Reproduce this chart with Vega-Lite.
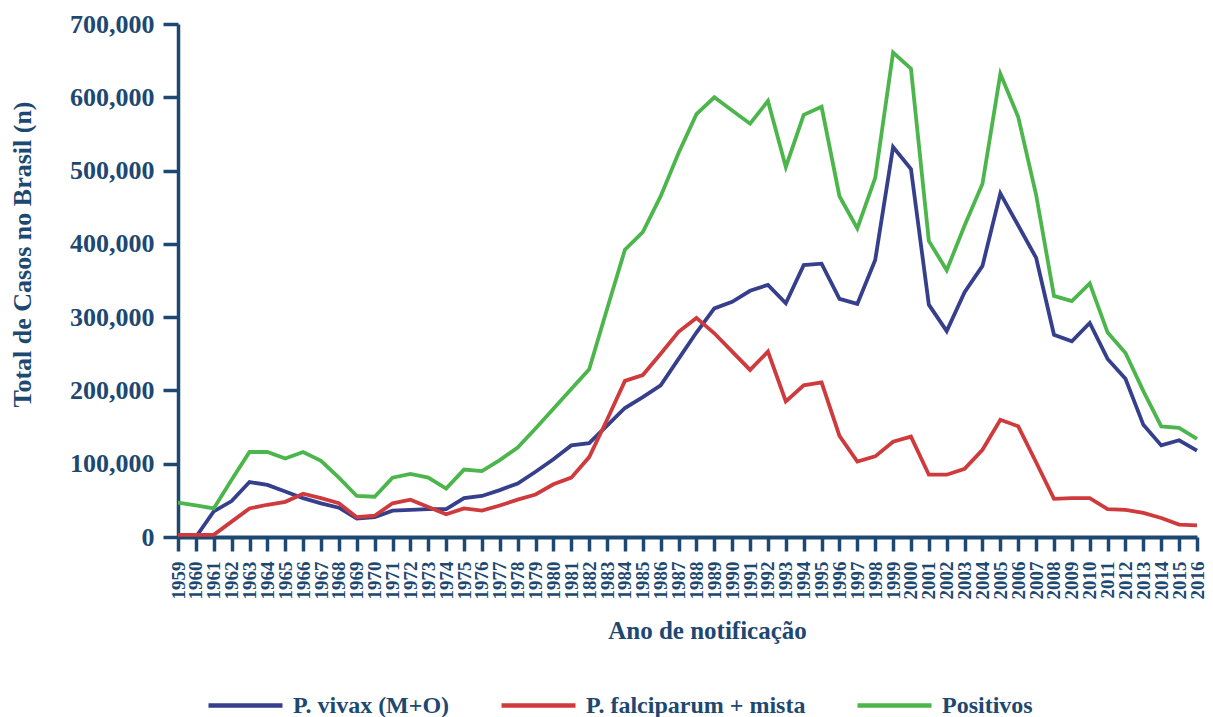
{
  "$schema": "https://vega.github.io/schema/vega-lite/v6.json",
  "width": 1019,
  "height": 513,
  "autosize": {"type": "none"},
  "padding": {"left": 178, "top": 24, "right": 16, "bottom": 180},
  "background": "white",
  "config": {"view": {"stroke": null}, "font": "Liberation Serif"},
  "data": {"values": [
    {"ano": 1959, "falciparum": 3000, "positivos": 47000},
    {"ano": 1960, "vivax": 0, "falciparum": 3000, "positivos": 43000},
    {"ano": 1961, "vivax": 35000, "falciparum": 3000, "positivos": 39000},
    {"ano": 1962, "vivax": 49000, "falciparum": 21000, "positivos": 78000},
    {"ano": 1963, "vivax": 75000, "falciparum": 39000, "positivos": 116000},
    {"ano": 1964, "vivax": 71000, "falciparum": 44000, "positivos": 116000},
    {"ano": 1965, "vivax": 62000, "falciparum": 48000, "positivos": 107000},
    {"ano": 1966, "vivax": 53000, "falciparum": 59000, "positivos": 116000},
    {"ano": 1967, "vivax": 46000, "falciparum": 53000, "positivos": 104000},
    {"ano": 1968, "vivax": 40000, "falciparum": 46000, "positivos": 81000},
    {"ano": 1969, "vivax": 25000, "falciparum": 27000, "positivos": 56000},
    {"ano": 1970, "vivax": 27000, "falciparum": 29000, "positivos": 55000},
    {"ano": 1971, "vivax": 36000, "falciparum": 46000, "positivos": 81000},
    {"ano": 1972, "vivax": 37000, "falciparum": 51000, "positivos": 86000},
    {"ano": 1973, "vivax": 38000, "falciparum": 41000, "positivos": 81000},
    {"ano": 1974, "vivax": 38000, "falciparum": 31000, "positivos": 66000},
    {"ano": 1975, "vivax": 53000, "falciparum": 39000, "positivos": 92000},
    {"ano": 1976, "vivax": 56000, "falciparum": 36000, "positivos": 90000},
    {"ano": 1977, "vivax": 64000, "falciparum": 43000, "positivos": 105000},
    {"ano": 1978, "vivax": 73000, "falciparum": 51000, "positivos": 122000},
    {"ano": 1979, "vivax": 89000, "falciparum": 58000, "positivos": 148000},
    {"ano": 1980, "vivax": 106000, "falciparum": 72000, "positivos": 175000},
    {"ano": 1981, "vivax": 125000, "falciparum": 81000, "positivos": 202000},
    {"ano": 1982, "vivax": 128000, "falciparum": 109000, "positivos": 229000},
    {"ano": 1983, "vivax": 152000, "falciparum": 160000, "positivos": 311000},
    {"ano": 1984, "vivax": 176000, "falciparum": 213000, "positivos": 392000},
    {"ano": 1985, "vivax": 191000, "falciparum": 221000, "positivos": 416000},
    {"ano": 1986, "vivax": 207000, "falciparum": 250000, "positivos": 465000},
    {"ano": 1987, "vivax": 243000, "falciparum": 280000, "positivos": 524000},
    {"ano": 1988, "vivax": 279000, "falciparum": 299000, "positivos": 577000},
    {"ano": 1989, "vivax": 312000, "falciparum": 278000, "positivos": 600000},
    {"ano": 1990, "vivax": 321000, "falciparum": 253000, "positivos": 582000},
    {"ano": 1991, "vivax": 336000, "falciparum": 228000, "positivos": 564000},
    {"ano": 1992, "vivax": 344000, "falciparum": 253000, "positivos": 595000},
    {"ano": 1993, "vivax": 319000, "falciparum": 185000, "positivos": 505000},
    {"ano": 1994, "vivax": 371000, "falciparum": 207000, "positivos": 576000},
    {"ano": 1995, "vivax": 373000, "falciparum": 211000, "positivos": 587000},
    {"ano": 1996, "vivax": 325000, "falciparum": 138000, "positivos": 465000},
    {"ano": 1997, "vivax": 318000, "falciparum": 103000, "positivos": 421000},
    {"ano": 1998, "vivax": 378000, "falciparum": 110000, "positivos": 490000},
    {"ano": 1999, "vivax": 532000, "falciparum": 130000, "positivos": 661000},
    {"ano": 2000, "vivax": 502000, "falciparum": 137000, "positivos": 639000},
    {"ano": 2001, "vivax": 317000, "falciparum": 85000, "positivos": 404000},
    {"ano": 2002, "vivax": 281000, "falciparum": 85000, "positivos": 364000},
    {"ano": 2003, "vivax": 334000, "falciparum": 93000, "positivos": 425000},
    {"ano": 2004, "vivax": 370000, "falciparum": 119000, "positivos": 482000},
    {"ano": 2005, "vivax": 469000, "falciparum": 160000, "positivos": 632000},
    {"ano": 2006, "vivax": 425000, "falciparum": 151000, "positivos": 573000},
    {"ano": 2007, "vivax": 381000, "falciparum": 102000, "positivos": 467000},
    {"ano": 2008, "vivax": 276000, "falciparum": 52000, "positivos": 329000},
    {"ano": 2009, "vivax": 267000, "falciparum": 53000, "positivos": 322000},
    {"ano": 2010, "vivax": 292000, "falciparum": 53000, "positivos": 346000},
    {"ano": 2011, "vivax": 243000, "falciparum": 38000, "positivos": 279000},
    {"ano": 2012, "vivax": 216000, "falciparum": 37000, "positivos": 251000},
    {"ano": 2013, "vivax": 153000, "falciparum": 33000, "positivos": 199000},
    {"ano": 2014, "vivax": 125000, "falciparum": 26000, "positivos": 151000},
    {"ano": 2015, "vivax": 132000, "falciparum": 17000, "positivos": 149000},
    {"ano": 2016, "vivax": 118000, "falciparum": 16000, "positivos": 134000}
  ]},
  "transform": [{"fold": ["vivax", "falciparum", "positivos"], "as": ["serie", "casos"]}],
  "mark": {"type": "line", "strokeWidth": 3.8},
  "encoding": {
    "x": {
      "field": "ano",
      "type": "ordinal",
      "scale": {"type": "point", "padding": 0},
      "axis": {
        "title": "Ano de notificação",
        "labelExpr": "datum.value == 1982 ? '1882' : datum.label",
        "labelAngle": 270,
        "labelAlign": "right",
        "labelBaseline": "middle",
        "labelFontSize": 19,
        "labelFontWeight": "bold",
        "labelColor": "#1d4871",
        "labelPadding": 10,
        "labelOverlap": false,
        "labelFont": "Liberation Serif",
        "tickSize": 14,
        "tickWidth": 3.5,
        "tickColor": "#1d4871",
        "domainColor": "#1d4871",
        "domainWidth": 4,
        "grid": false,
        "titleFont": "Liberation Serif",
        "titleFontSize": 25,
        "titleFontWeight": "bold",
        "titleColor": "#1d4871",
        "titleX": 529,
        "titleY": 101,
        "titleAlign": "center",
        "titleBaseline": "alphabetic"
      }
    },
    "y": {
      "field": "casos",
      "type": "quantitative",
      "scale": {"domain": [0, 700000], "nice": false},
      "axis": {
        "title": "Total de Casos no Brasil (n)",
        "values": [0, 100000, 200000, 300000, 400000, 500000, 600000, 700000],
        "format": ",d",
        "labelFontSize": 26,
        "labelFontWeight": "bold",
        "labelColor": "#1d4871",
        "labelFont": "Liberation Serif",
        "labelPadding": 9,
        "tickSize": 15,
        "tickWidth": 3.5,
        "tickColor": "#1d4871",
        "domainColor": "#1d4871",
        "domainWidth": 3.5,
        "grid": false,
        "titleFont": "Liberation Serif",
        "titleFontSize": 26,
        "titleFontWeight": "bold",
        "titleColor": "#1d4871",
        "titleAngle": 270,
        "titleX": -156,
        "titleY": 230,
        "titleAlign": "center",
        "titleBaseline": "middle"
      }
    },
    "color": {
      "field": "serie",
      "type": "nominal",
      "scale": {"domain": ["vivax", "falciparum", "positivos"], "range": ["#353f8c", "#cf3a3d", "#4cb64c"]},
      "legend": {
        "title": null,
        "orient": "none",
        "legendX": 28,
        "legendY": 642,
        "direction": "horizontal",
        "gridAlign": "none",
        "symbolType": "stroke",
        "symbolSize": 5476,
        "symbolStrokeWidth": 4.5,
        "labelExpr": "datum.value == 'vivax' ? 'P. vivax (M+O)' : datum.value == 'falciparum' ? 'P. falciparum + mista' : 'Positivos'",
        "labelFont": "Liberation Serif",
        "labelFontSize": 24,
        "labelFontWeight": "bold",
        "labelColor": "#1d4871",
        "labelLimit": 400,
        "labelOffset": 8,
        "columnPadding": 42
      }
    }
  }
}
